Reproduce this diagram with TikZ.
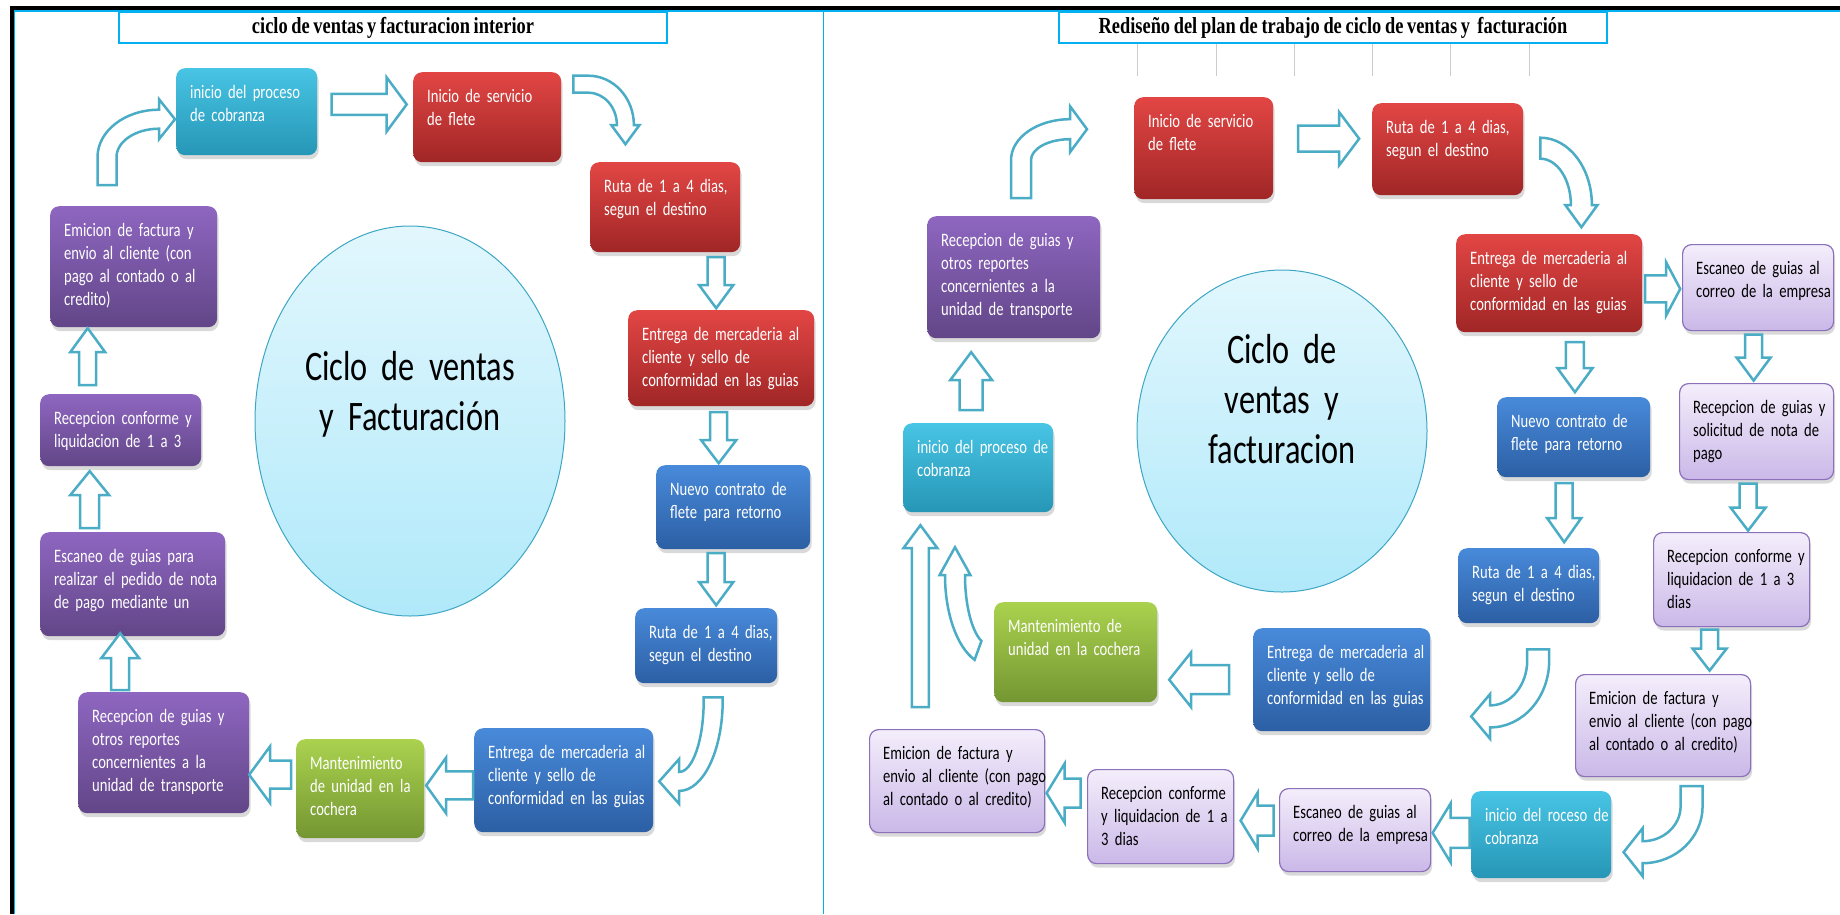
\documentclass[tikz,border=0pt]{standalone}
\usepackage{fontspec}
\usepackage{tikz}
\usetikzlibrary{calc,shapes.geometric,shadows}
\newfontfamily\boxfont{Carlito}[FakeStretch=0.77, WordSpace=0.55]
\newfontfamily\titlefont{Liberation Serif}[FakeStretch=0.8, WordSpace=0.8]
\definecolor{framecyan}{RGB}{0,176,240}
\definecolor{arrowblue}{RGB}{75,172,198}
\definecolor{cyantop}{RGB}{72,196,228}
\definecolor{cyanbot}{RGB}{38,150,182}
\definecolor{redtop}{RGB}{226,70,68}
\definecolor{redbot}{RGB}{160,38,38}
\definecolor{purptop}{RGB}{142,102,192}
\definecolor{purpbot}{RGB}{98,70,136}
\definecolor{bluetop}{RGB}{72,138,218}
\definecolor{bluebot}{RGB}{44,95,164}
\definecolor{greentop}{RGB}{170,210,78}
\definecolor{greenbot}{RGB}{116,150,50}
\definecolor{lavtop}{RGB}{244,238,251}
\definecolor{lavbot}{RGB}{202,184,232}
\definecolor{lavedge}{RGB}{140,112,186}
\definecolor{hubtop}{RGB}{226,247,253}
\definecolor{hubbot}{RGB}{176,233,250}
\definecolor{hubedge}{RGB}{62,166,196}
\tikzset{
  card/.style={rectangle, rounded corners=9pt, anchor=north west, inner sep=0pt,
    drop shadow={shadow xshift=1.5pt, shadow yshift=-4pt, opacity=.3}},
  cyanbox/.style={card, top color=cyantop, bottom color=cyanbot},
  redbox/.style={card, top color=redtop, bottom color=redbot},
  purplebox/.style={card, top color=purptop, bottom color=purpbot},
  bluebox/.style={card, top color=bluetop, bottom color=bluebot},
  greenbox/.style={card, top color=greentop, bottom color=greenbot},
  lavbox/.style={card, top color=lavtop, bottom color=lavbot, draw=lavedge, line width=1.2pt},
  txt/.style={anchor=base west, text width=220pt, align=left, inner sep=0pt,
    font=\boxfont\fontsize{19}{23}\selectfont},
  hub/.style={ellipse, draw=hubedge, line width=1pt, top color=hubtop, bottom color=hubbot},
  hubtxt/.style={anchor=base, text width=300pt, align=center, inner sep=0pt,
    font=\boxfont\fontsize{42}{50}\selectfont},
  ttl/.style={draw=framecyan, line width=1.3pt, fill=white, minimum height=31, minimum width=548,
    font=\titlefont\bfseries\fontsize{23}{26}\selectfont},
  blockarr/.style={draw=arrowblue, fill=white, line width=2.5pt, line join=miter},
  tick/.style={draw=black!20, line width=0.8pt},
}
% box with its label: [text colour] name, style, x, y, width, height, text
\newcommand{\stage}[8][white]{%
  \node[#3, minimum width=#6, minimum height=#7] (#2) at (#4,#5) {};
  \node[txt, text=#1] (#2t) at ($(#2.north west)+(14,30)$) {#8};}
% straight block arrow: centre, angle, length, shaft, head width, head length
\newcommand{\barrow}[6]{%
  \draw[blockarr, shift={#1}, rotate=#2] ({-#3/2},{-#4/2}) -- ({#3/2-#6},{-#4/2})
    -- ({#3/2-#6},{-#5/2}) -- ({#3/2},0) -- ({#3/2-#6},{#5/2}) -- ({#3/2-#6},{#4/2})
    -- ({-#3/2},{#4/2}) -- cycle;}
% curved block arrow: centre, rx, ry, from angle, to angle, shaft, head width, head length, tail
\newcommand{\carrow}[9]{%
  \coordinate (cc) at #1;
  \draw[blockarr]
    ($(cc)+(#4:{#2+#6/2} and {#3+#6/2})+({#4-90}:#9)$)
    -- ($(cc)+(#4:{#2+#6/2} and {#3+#6/2})$)
    arc[start angle=#4, end angle=#5, x radius={#2+#6/2}, y radius={#3+#6/2}]
    -- ($(cc)+(#5:{#2+#7/2} and {#3+#7/2})$)
    -- ($(cc)+(#5:#2 and #3)+({#5+90}:#8)$)
    -- ($(cc)+(#5:{#2-#7/2} and {#3-#7/2})$)
    -- ($(cc)+(#5:{#2-#6/2} and {#3-#6/2})$)
    arc[start angle=#5, end angle=#4, x radius={#2-#6/2}, y radius={#3-#6/2}]
    -- ($(cc)+(#4:{#2-#6/2} and {#3-#6/2})+({#4-90}:#9)$) -- cycle;}

\begin{document}
\begin{tikzpicture}[x=1pt,y=-1pt]
  \useasboundingbox (0,0) rectangle (1840,914);
  % frame
  \fill[black] (10,5.5) rectangle (1840,10);
  \fill[black] (9.5,5.5) rectangle (13.5,914);
  \draw[framecyan, line width=1.6pt] (14.5,914) -- (14.5,11) -- (1840,11);
  \draw[framecyan, line width=1.6pt] (823.5,11) -- (823.5,914);
  % titles
  \node[ttl] (ltitle) at (393,27.5) {ciclo de ventas y facturacion interior};
  \node[ttl] (rtitle) at (1333,27.5) {Rediseño del plan de trabajo de ciclo de ventas y~ facturación};
  \foreach \x in {1137,1216,1294,1372,1450,1529}{\draw[tick] (\x,44) -- (\x,76);}

  % left cycle
  \node[hub, minimum width=310, minimum height=390] (lhub) at (410,421) {};
  \node[hubtxt] (lhubt) at (410,380) {Ciclo de ventas\\y Facturación};
  \stage{l1}{cyanbox}{176}{68}{141}{87}{inicio del proceso\\de cobranza}
  \stage{l2}{redbox}{413}{72}{148}{90}{Inicio de servicio\\de flete}
  \stage{l3}{redbox}{590}{162}{150}{90}{Ruta de 1 a 4 dias,\\segun el destino}
  \stage{l4}{redbox}{628}{310}{186}{96}{Entrega de mercaderia al\\cliente y sello de\\conformidad en las guias}
  \stage{l5}{bluebox}{656}{465}{154}{84}{Nuevo contrato de\\flete para retorno}
  \stage{l6}{bluebox}{635}{608}{142}{75}{Ruta de 1 a 4 dias,\\segun el destino}
  \stage{l7}{bluebox}{474}{728}{179}{104}{Entrega de mercaderia al\\cliente y sello de\\conformidad en las guias}
  \stage{l8}{greenbox}{296}{739}{128}{99}{Mantenimiento\\de unidad en la\\cochera}
  \stage{l9}{purplebox}{78}{692}{171}{121}{Recepcion de guias y\\otros reportes\\concernientes a la\\unidad de transporte}
  \stage{l10}{purplebox}{40}{532}{185}{104}{Escaneo de guias para\\realizar el pedido de nota\\de pago mediante un}
  \stage{l11}{purplebox}{40}{394}{161}{72}{Recepcion conforme y\\liquidacion de 1 a 3}
  \stage{l12}{purplebox}{50}{206}{167}{121}{Emicion de factura y\\envio al cliente (con\\pago al contado o al\\credito)}
  \barrow{($(l1.east)!.5!(l2.west)+(4,-10)$)}{0}{75}{21}{54}{20}
  \barrow{($(l3.south)!.5!(l4.north)+(23,1.5)$)}{-90}{51}{17}{34}{23}
  \barrow{($(l4.south)!.5!(l5.north)+(-8.5,2)$)}{-90}{51}{17}{35}{23}
  \barrow{($(l5.south)!.5!(l6.north)+(-3.5,0.5)$)}{-90}{52}{17}{34}{23}
  \barrow{($(l7.west)!.5!(l8.east)+(0.5,1)$)}{180}{47}{28}{56}{20}
  \barrow{($(l8.west)!.5!(l9.east)+(-2.5,4)$)}{180}{42}{28}{57}{21}
  \barrow{($(l9.north)!.5!(l10.south)+(-28,-2.5)$)}{90}{57}{18}{38}{25}
  \barrow{($(l10.north)!.5!(l11.south)+(-37,0.5)$)}{90}{57}{19}{39}{24}
  \barrow{($(l11.north)!.5!(l12.south)+(-39.5,-4)$)}{90}{57}{17}{35}{24}
  \carrow{($(l1.west)+(-17,45.5)$)}{52}{38}{180}{270}{19}{40}{16}{28}
  \carrow{($(l2.east)+(27,8)$)}{37}{41}{270}{360}{17}{28}{19}{15}
  \carrow{($(l6.south)+(-27,17)$)}{34}{81}{0}{90}{19}{45}{20}{3}

  % right cycle
  \node[hub, minimum width=290, minimum height=322] (rhub) at (1282,431) {};
  \node[hubtxt] (rhubt) at (1282,363) {Ciclo de\\ventas y\\facturacion};
  \stage{r1}{purplebox}{927}{216}{173}{122}{Recepcion de guias y\\otros reportes\\concernientes a la\\unidad de transporte}
  \stage{r2}{redbox}{1134}{97}{139}{102}{Inicio de servicio\\de flete}
  \stage{r3}{redbox}{1372}{103}{151}{92}{Ruta de 1 a 4 dias,\\segun el destino}
  \stage{r4}{redbox}{1456}{234}{186}{98}{Entrega de mercaderia al\\cliente y sello de\\conformidad en las guias}
  \stage[black]{r5}{lavbox}{1682}{244}{151}{86}{Escaneo de guias al\\correo de la empresa}
  \stage{r6}{bluebox}{1497}{397}{153}{80}{Nuevo contrato de\\flete para retorno}
  \stage[black]{r7}{lavbox}{1679}{383}{154}{96}{Recepcion de guias y\\solicitud de nota de\\pago}
  \stage{r8}{bluebox}{1458}{548}{141}{75}{Ruta de 1 a 4 dias,\\segun el destino}
  \stage[black]{r9}{lavbox}{1653}{532}{156}{94}{Recepcion conforme y\\liquidacion de 1 a 3\\dias}
  \stage[black]{r10}{lavbox}{1575}{674}{175}{102}{Emicion de factura y\\envio al cliente (con pago\\al contado o al credito)}
  \stage{r11}{bluebox}{1253}{628}{177}{103}{Entrega de mercaderia al\\cliente y sello de\\conformidad en las guias}
  \stage{r12}{greenbox}{994}{602}{163}{100}{Mantenimiento de\\unidad en la cochera}
  \stage{r13}{cyanbox}{903}{423}{150}{89}{inicio del proceso de\\cobranza}
  \stage[black]{r14}{lavbox}{869}{729}{175}{103}{Emicion de factura y\\envio al cliente (con pago\\al contado o al credito)}
  \stage[black]{r15}{lavbox}{1087}{769}{146}{94}{Recepcion conforme\\y liquidacion de 1 a\\3 dias}
  \stage[black]{r16}{lavbox}{1279}{788}{151}{83}{Escaneo de guias al\\correo de la empresa}
  \stage{r17}{cyanbox}{1471}{791}{140}{87}{inicio del roceso de\\cobranza}
  \barrow{($(r2.east)!.5!(r3.west)+(6,-10)$)}{0}{61}{26}{53}{20}
  \barrow{($(r4.east)!.5!(r5.west)+(0.5,3.5)$)}{0}{35}{27}{53}{14}
  \barrow{($(r4.south)!.5!(r6.north)+(13.5,2.5)$)}{-90}{50}{18}{35}{24}
  \barrow{($(r5.south)!.5!(r7.north)+(-3.75,0.5)$)}{-90}{46}{17}{34}{23}
  \barrow{($(r6.south)!.5!(r8.north)+(13,0)$)}{-90}{59}{17}{34}{24}
  \barrow{($(r7.south)!.5!(r9.north)+(4,1)$)}{-90}{47}{17}{35}{23}
  \barrow{($(r9.south)!.5!(r10.north)+(12.25,-0.5)$)}{-90}{41}{17}{34}{22}
  \barrow{($(r11.west)!.5!(r12.east)+(-6,13.75)$)}{180}{60}{29}{55}{22}
  \barrow{($(r17.west)!.5!(r16.east)+(0,0.5)$)}{180}{37}{30}{59}{18}
  \barrow{($(r16.west)!.5!(r15.east)+(0.5,-2.75)$)}{180}{33}{30}{56}{17}
  \barrow{($(r15.west)!.5!(r14.east)+(-2.5,-5.75)$)}{180}{34}{29}{59}{18}
  \barrow{($(r13.north)!.5!(r1.south)+(-24.75,0.5)$)}{90}{58}{23}{42}{28}
  \barrow{($(r14.north)!.5!(r13.south)+(-47.25,-4.5)$)}{90}{182}{17}{34}{23}
  \carrow{($(r2.west)+(-64,12)$)}{49}{31}{180}{270}{20}{46}{17}{38}
  \carrow{($(r3.east)+(17,56)$)}{41}{57}{270}{360}{21}{32}{22}{0}
  \carrow{($(r8.south)+(-38.5,37)$)}{48}{56}{0}{90}{22}{45}{19}{11}
  \carrow{($(r10.south)+(-20.5,29)$)}{49}{46}{0}{90}{22}{48}{19}{20}
  \carrow{($(r12.west)+(-4,-77)$)}{35}{80}{110}{180}{20}{31}{28}{0}
\end{tikzpicture}
\end{document}
